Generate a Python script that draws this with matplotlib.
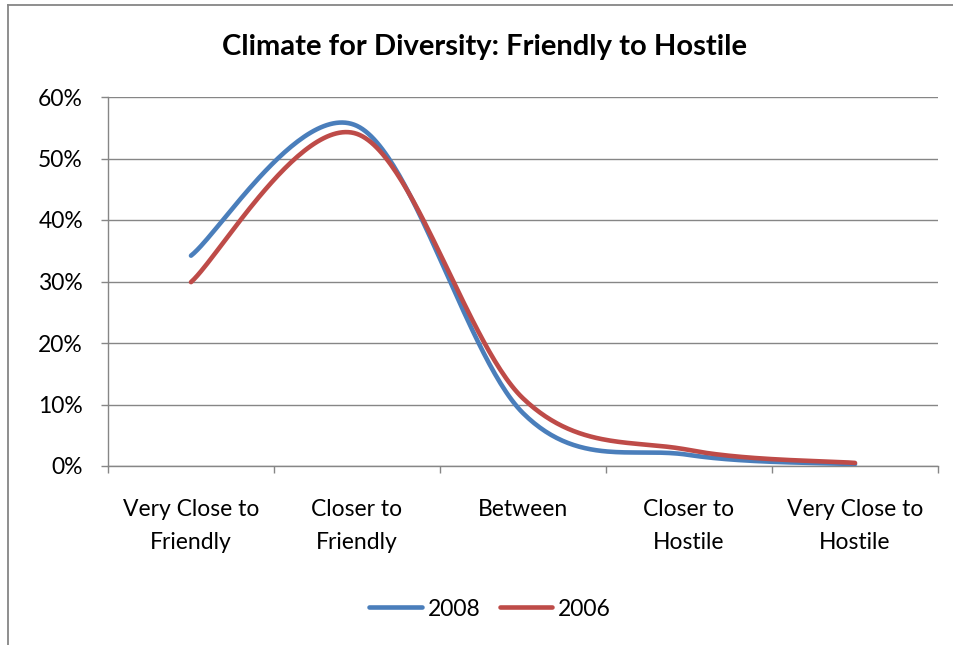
import numpy as np
import matplotlib
matplotlib.use("Agg")
import matplotlib.pyplot as plt
from matplotlib.lines import Line2D

categories = ["Very Close to\nFriendly", "Closer to\nFriendly", "Between",
              "Closer to\nHostile", "Very Close to\nHostile"]
series_names = ["2008", "2006"]
values_2008 = [34.2, 55.3, 8.6, 1.8, 0.3]
values_2006 = [29.9, 54.0, 11.0, 2.6, 0.5]
y_ticks = [0, 10, 20, 30, 40, 50, 60]
y_tick_labels = ["0%", "10%", "20%", "30%", "40%", "50%", "60%"]

colors = ["#4A7EBB", "#BE4B48"]
FONT = "Lato"
FS = 16.5


def excel_smooth(xs, ys, n=60):
    xs = np.asarray(xs, float)
    ys = np.asarray(ys, float)
    pts = np.column_stack([xs, ys])
    out = []
    m = len(pts)
    for i in range(m - 1):
        p0 = pts[i - 1] if i > 0 else pts[i]
        p1 = pts[i]
        p2 = pts[i + 1]
        p3 = pts[i + 2] if i + 2 < m else pts[i + 1]
        c1 = p1 + (p2 - p0) / 6.0
        c2 = p2 - (p3 - p1) / 6.0
        t = np.linspace(0, 1, n)[:, None]
        seg = ((1 - t) ** 3) * p1 + 3 * ((1 - t) ** 2) * t * c1 + 3 * (1 - t) * t ** 2 * c2 + t ** 3 * p2
        if i > 0:
            seg = seg[1:]
        out.append(seg)
    out = np.vstack(out)
    return out[:, 0], out[:, 1]


fig = plt.figure(figsize=(9.54, 6.45), dpi=100)
fig.patch.set_facecolor("white")

# outer chart border (left and top)
fig.add_artist(Line2D([8.5 / 954, 8.5 / 954], [0, 1 - 4.5 / 645], transform=fig.transFigure,
                      color="#868686", lw=1.3))
fig.add_artist(Line2D([8.5 / 954, 1.0], [1 - 4.5 / 645, 1 - 4.5 / 645], transform=fig.transFigure,
                      color="#868686", lw=1.3))

ax = fig.add_axes([108 / 954, (645 - 466) / 645, (938 - 108) / 954, (466 - 97) / 645])
x = np.arange(len(categories))
for vals, c, name in zip([values_2008, values_2006], colors, series_names):
    sx, sy = excel_smooth(x, vals)
    ax.plot(sx, sy, color=c, lw=3.3, solid_capstyle="round", label=name, zorder=3)

ax.set_xlim(-0.5, len(categories) - 0.5)
ax.set_ylim(0, 60)
ax.set_yticks(y_ticks)
ax.set_yticklabels(y_tick_labels, fontfamily=FONT, fontsize=FS)
ax.yaxis.grid(True, color="#868686", lw=1.0)
ax.set_axisbelow(True)

ax.set_xticks(x)
ax.set_xticklabels(categories, fontfamily=FONT, fontsize=FS, linespacing=1.75)
ax.set_xticks(np.arange(-0.5, len(categories)), minor=True)
ax.tick_params(axis="x", which="major", length=0, pad=23.5)
ax.tick_params(axis="x", which="minor", length=5, color="#868686", width=1.0, direction="out")
ax.tick_params(axis="y", length=5, color="#868686", width=1.0, direction="out", pad=13)

for s in ["top", "right"]:
    ax.spines[s].set_visible(False)
for s in ["left", "bottom"]:
    ax.spines[s].set_color("#868686")
    ax.spines[s].set_linewidth(1.0)

fig.text(485 / 954, 1 - 47 / 645, "Climate for Diversity: Friendly to Hostile",
         ha="center", va="center", fontfamily=FONT, fontweight="bold", fontsize=21)

leg = fig.legend(loc="center", bbox_to_anchor=(490 / 954, 1 - 609 / 645), ncol=2, frameon=False,
                 prop={"family": FONT, "size": FS}, handlelength=2.3, handletextpad=0.25,
                 columnspacing=0.85)

fig.savefig("out.png", dpi=100)
